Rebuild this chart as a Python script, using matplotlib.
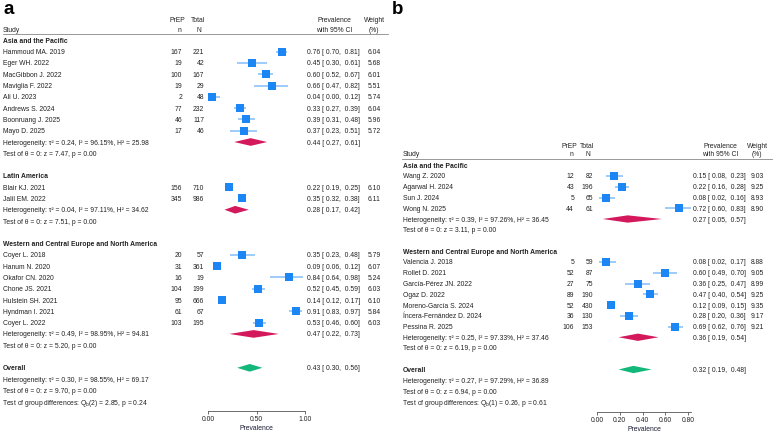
import matplotlib
matplotlib.use('Agg')
import matplotlib.pyplot as plt
import matplotlib.transforms as mtransforms
import numpy as np

plt.rcParams['font.family'] = ['Liberation Sans', 'DejaVu Sans']
plt.rcParams['mathtext.fontset'] = 'custom'
plt.rcParams['mathtext.rm'] = 'Liberation Sans'
plt.rcParams['mathtext.it'] = 'Liberation Sans:italic'

W, H = 774, 432

# ---------------- panel a data ----------------
a_groups = ['Asia and the Pacific', 'Latin America',
            'Western and Central Europe and North America']
a_study = ['Hammoud MA. 2019', 'Eger WH. 2022', 'MacGibbon J. 2022', 'Maviglia F. 2022',
           'Ali U. 2023', 'Andrews S. 2024', 'Boonruang J. 2025', 'Mayo D. 2025',
           'Blair KJ. 2021', 'Jalil EM. 2022',
           'Coyer L. 2018', 'Hanum N. 2020', 'Okafor CN. 2020', 'Chone JS. 2021',
           'Hulstein SH. 2021', 'Hyndman I. 2021', 'Coyer L. 2022']
a_grp = [0, 0, 0, 0, 0, 0, 0, 0, 1, 1, 2, 2, 2, 2, 2, 2, 2]
a_n = [167, 19, 100, 19, 2, 77, 46, 17, 156, 345, 20, 31, 16, 104, 95, 61, 103]
a_N = [221, 42, 167, 29, 48, 232, 117, 46, 710, 986, 57, 361, 19, 199, 666, 67, 195]
a_est = [0.76, 0.45, 0.60, 0.66, 0.04, 0.33, 0.39, 0.37, 0.22, 0.35,
         0.35, 0.09, 0.84, 0.52, 0.14, 0.91, 0.53]
a_lo = [0.70, 0.30, 0.52, 0.47, 0.00, 0.27, 0.31, 0.23, 0.19, 0.32,
        0.23, 0.06, 0.64, 0.45, 0.12, 0.83, 0.46]
a_hi = [0.81, 0.61, 0.67, 0.82, 0.12, 0.39, 0.48, 0.51, 0.25, 0.38,
        0.48, 0.12, 0.98, 0.59, 0.17, 0.97, 0.60]
a_w = [6.04, 5.68, 6.01, 5.51, 5.74, 6.04, 5.96, 5.72, 6.10, 6.11,
       5.79, 6.07, 5.24, 6.03, 6.10, 5.84, 6.03]
a_grp_est = [0.44, 0.28, 0.47]
a_grp_lo = [0.27, 0.17, 0.22]
a_grp_hi = [0.61, 0.42, 0.73]
a_grp_tau2 = [0.24, 0.04, 0.49]
a_grp_i2 = [96.15, 97.11, 98.95]
a_grp_h2 = [25.98, 34.62, 94.81]
a_grp_z = [7.47, 7.51, 5.20]
a_grp_p = [0.00, 0.00, 0.00]
a_all = [0.43, 0.30, 0.56]          # est, lo, hi
a_all_het = [0.30, 98.55, 69.17]    # tau2, I2, H2
a_all_z = [9.70, 0.00]
a_qb = [2, 2.85, 0.24]              # df, Q, p
a_ticks = [0.0, 0.5, 1.0]

# ---------------- panel b data ----------------
b_groups = ['Asia and the Pacific', 'Western and Central Europe and North America']
b_study = ['Wang Z. 2020', 'Agarwal H. 2024', 'Sun J. 2024', 'Wong N. 2025',
           'Valencia J. 2018', 'Rollet D. 2021', 'García-Pérez JN. 2022', 'Ogaz D. 2022',
           'Moreno-García S. 2024', 'Íncera-Fernández D. 2024', 'Pessina R. 2025']
b_grp = [0, 0, 0, 0, 1, 1, 1, 1, 1, 1, 1]
b_n = [12, 43, 5, 44, 5, 52, 27, 89, 52, 36, 106]
b_N = [82, 196, 65, 61, 59, 87, 75, 190, 430, 130, 153]
b_est = [0.15, 0.22, 0.08, 0.72, 0.08, 0.60, 0.36, 0.47, 0.12, 0.28, 0.69]
b_lo = [0.08, 0.16, 0.02, 0.60, 0.02, 0.49, 0.25, 0.40, 0.09, 0.20, 0.62]
b_hi = [0.23, 0.28, 0.16, 0.83, 0.17, 0.70, 0.47, 0.54, 0.15, 0.36, 0.76]
b_w = [9.03, 9.25, 8.93, 8.90, 8.88, 9.05, 8.99, 9.25, 9.35, 9.17, 9.21]
b_grp_est = [0.27, 0.36]
b_grp_lo = [0.05, 0.19]
b_grp_hi = [0.57, 0.54]
b_grp_tau2 = [0.39, 0.25]
b_grp_i2 = [97.26, 97.33]
b_grp_h2 = [36.45, 37.46]
b_grp_z = [3.11, 6.19]
b_grp_p = [0.00, 0.00]
b_all = [0.32, 0.19, 0.48]
b_all_het = [0.27, 97.29, 36.89]
b_all_z = [6.94, 0.00]
b_qb = [1, 0.26, 0.61]
b_ticks = [0.0, 0.2, 0.4, 0.6, 0.8]

# colours
SQ = '#1c86f5'
CI = '#8cc2fb'
SUB = '#d3185c'
ALL = '#12b87a'
TXT = '#222222'
FS = 4.9


def fx(px):
    return px / W


def fy(py):
    return 1 - py / H


def ci_text(e, l, h):
    return '%.2f [ %.2f,  %.2f]' % (e, l, h)


def het_text(t2, i2, h2):
    return 'Heterogeneity: τ² = %.2f, I² = %.2f%%, H² = %.2f' % (t2, i2, h2)


def diamond(ax, e, l, h, y, color, hh=0.34):
    ax.fill([l, e, h, e], [y, y - hh, y, y + hh], color=color, lw=0, clip_on=False, zorder=3)


def draw_panel(lay, groups, study, grp, n, N, est, lo, hi, w,
               g_est, g_lo, g_hi, g_t2, g_i2, g_h2, g_z, g_p,
               all_ci, all_het, all_z, qb, ticks):
    y0, u = lay['y0'], lay['u']
    xlo, xhi = lay['xlim']
    ax = fig.add_axes([fx(lay['x0']), fy(lay['axis_y']),
                       fx((xhi - xlo) * lay['scale']), lay['axis_y'] / H])
    ax.set_xlim(xlo, xhi)
    ax.set_ylim((lay['axis_y'] - y0) / u, -y0 / u)
    ax.patch.set_visible(False)
    for s in ['top', 'left', 'right']:
        ax.spines[s].set_visible(False)
    ax.spines['bottom'].set_color('#555555')
    ax.spines['bottom'].set_linewidth(0.6)
    ax.spines['bottom'].set_bounds(xlo, xhi)
    ax.set_yticks([])
    ax.set_xticks(ticks)
    ax.set_xticklabels(['%.2f' % t for t in ticks])
    ax.tick_params(axis='x', labelsize=FS, length=2.2, width=0.6, color='#555555',
                   pad=1.5, labelcolor=TXT)
    ax.set_xlabel('Prevalence', fontsize=FS, labelpad=1, color='#1a1a33')

    tr = mtransforms.blended_transform_factory(fig.transFigure, ax.transData)
    c = lay['cols']
    kw = dict(transform=tr, fontsize=FS, color=TXT, va='center_baseline')
    hk = dict(fontsize=FS, color=TXT, va='center_baseline', ha='center')

    # header
    hy1, hy2 = lay['head']
    fig.text(fx(c['study']), fy(hy2), 'Study', fontsize=FS, color=TXT, va='center_baseline')
    fig.text(fx(c['n'] - 5), fy(hy1), 'PrEP', **hk)
    fig.text(fx(c['n'] - 3), fy(hy2), 'n', **hk)
    fig.text(fx(c['N'] - 6), fy(hy1), 'Total', **hk)
    fig.text(fx(c['N'] - 5), fy(hy2), 'N', **hk)
    fig.text(fx(c['ci'] + 27), fy(hy1), 'Prevalence', **hk)
    fig.text(fx(c['ci'] + 27), fy(hy2), 'with 95% CI', **hk)
    fig.text(fx(c['w']), fy(hy1), 'Weight', **hk)
    fig.text(fx(c['w']), fy(hy2), '(%)', **hk)
    fig.add_artist(plt.Line2D([fx(lay['line'][0]), fx(lay['line'][1])],
                              [fy(lay['line'][2])] * 2, color='#888888', lw=0.6))

    msmax = max(w)
    r = 0
    for g in range(len(groups)):
        ax.text(fx(c['study']), r, groups[g], fontweight='bold', **kw)
        idx = [i for i in range(len(study)) if grp[i] == g]
        for i in idx:
            r += 1
            ax.text(fx(c['study']), r, study[i], **kw)
            ax.text(fx(c['n']), r, str(n[i]), ha='right', **kw)
            ax.text(fx(c['N']), r, str(N[i]), ha='right', **kw)
            ax.text(fx(c['ci']), r, ci_text(est[i], lo[i], hi[i]), **kw)
            ax.text(fx(c['w']), r, '%.2f' % w[i], ha='center', **kw)
            ax.plot([lo[i], hi[i]], [r, r], color=CI, lw=1.2, clip_on=False, zorder=2,
                    solid_capstyle='butt')
            ax.plot(est[i], r, 's', color=SQ, ms=5.8 * np.sqrt(w[i] / msmax),
                    mew=0, clip_on=False, zorder=3)
        r += 1
        ax.text(fx(c['study']), r, het_text(g_t2[g], g_i2[g], g_h2[g]), **kw)
        ax.text(fx(c['ci']), r, ci_text(g_est[g], g_lo[g], g_hi[g]), **kw)
        diamond(ax, g_est[g], g_lo[g], g_hi[g], r, SUB)
        r += 1
        ax.text(fx(c['study']), r, 'Test of θ = 0: z = %.2f, p = %.2f' % (g_z[g], g_p[g]), **kw)
        r += 2

    ax.text(fx(c['study']), r, 'Overall', fontweight='bold', **kw)
    ax.text(fx(c['ci']), r, ci_text(*all_ci), **kw)
    diamond(ax, all_ci[0], all_ci[1], all_ci[2], r, ALL)
    ax.text(fx(c['study']), r + 1, het_text(*all_het), **kw)
    ax.text(fx(c['study']), r + 2, 'Test of θ = 0: z = %.2f, p = %.2f' % tuple(all_z), **kw)
    ax.text(fx(c['study'] - 1), r + 3,
            'Test of group differences: Q$_\\mathrm{b}$(%d) = %.2f, p = %.2f' % tuple(qb), **kw)

    fig.text(fx(lay['label'][0]), fy(lay['label'][1]), lay['name'], fontsize=13.5,
             fontweight='bold', color='black', va='center')
    return ax


fig = plt.figure(figsize=(W / 100, H / 100), dpi=100)

lay_a = dict(name='a', label=(4, 10), y0=40.4, u=11.29, axis_y=411,
             x0=208, scale=97, xlim=(0, 1.0), head=(20, 29), line=(3, 388, 34),
             cols=dict(study=3, n=182, N=204, ci=307, w=374))
lay_b = dict(name='b', label=(392, 10), y0=165.25, u=10.75, axis_y=412,
             x0=597, scale=113.75, xlim=(0, 0.83), head=(145, 154), line=(402, 772, 159),
             cols=dict(study=403, n=574, N=593, ci=693, w=757))

draw_panel(lay_a, a_groups, a_study, a_grp, a_n, a_N, a_est, a_lo, a_hi, a_w,
           a_grp_est, a_grp_lo, a_grp_hi, a_grp_tau2, a_grp_i2, a_grp_h2, a_grp_z, a_grp_p,
           a_all, a_all_het, a_all_z, a_qb, a_ticks)
draw_panel(lay_b, b_groups, b_study, b_grp, b_n, b_N, b_est, b_lo, b_hi, b_w,
           b_grp_est, b_grp_lo, b_grp_hi, b_grp_tau2, b_grp_i2, b_grp_h2, b_grp_z, b_grp_p,
           b_all, b_all_het, b_all_z, b_qb, b_ticks)

fig.savefig('out.png', dpi=100, facecolor='white')
